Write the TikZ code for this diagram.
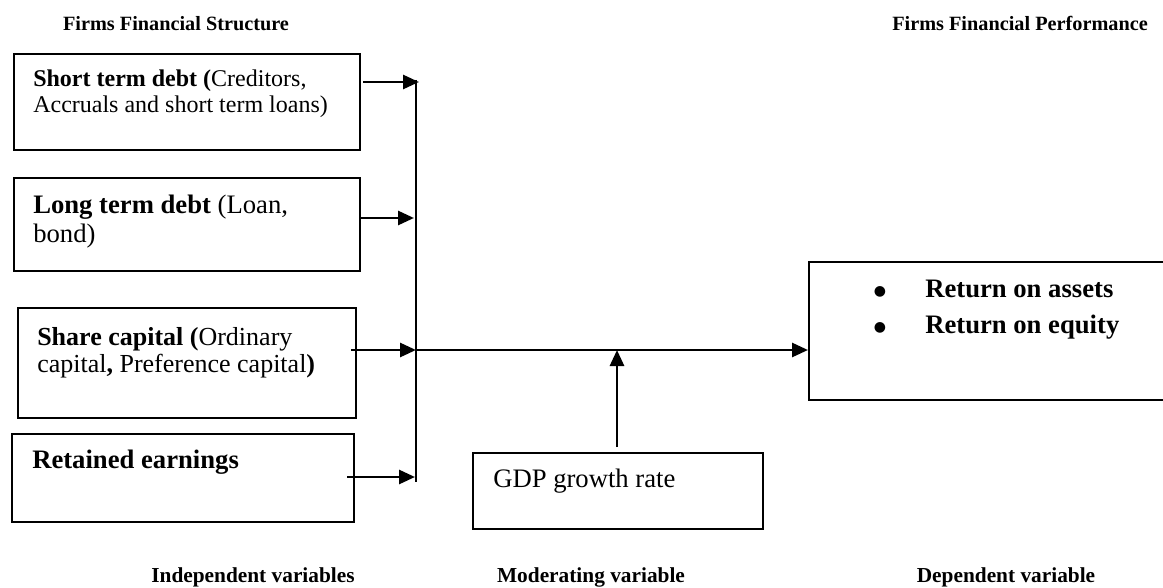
\documentclass[tikz,border=0pt]{standalone}
\usepackage{fontspec}
\setmainfont{Liberation Serif}
\newfontfamily\dejavu{DejaVu Sans}
\usetikzlibrary{arrows.meta}
\begin{document}
\begin{tikzpicture}[x=0.75pt,y=-0.75pt,
  box/.style={draw,line width=1.5pt,rectangle,inner sep=0pt,anchor=north west},
  txt/.style={inner sep=0pt,anchor=base west},
  ttl/.style={inner sep=0pt,anchor=base,font=\fontsize{15.2}{18}\selectfont\bfseries},
  lbl/.style={inner sep=0pt,anchor=base,font=\fontsize{16}{19}\selectfont\bfseries},
  bul/.style={inner sep=0pt,anchor=base,font=\dejavu\fontsize{10.5}{12}\selectfont},
  arr/.style={line width=2.1pt,-{Triangle[length=12pt,width=10.5pt]}},
  bus/.style={line width=1.1pt}]
\useasboundingbox (0,0) rectangle (1163,588);
\clip (0,0) rectangle (1163,588);
% titles
\node[ttl] (tl) at (176,31) {Firms Financial Structure};
\node[ttl] (tr) at (1020,31) {Firms Financial Performance};
% boxes
\node[box,minimum width=259.5pt,minimum height=72pt] (b1) at (13,53) {};
\node[box,minimum width=259.5pt,minimum height=69.75pt] (b2) at (13,177) {};
\node[box,minimum width=253.5pt,minimum height=82.5pt] (b3) at (17,307) {};
\node[box,minimum width=256.5pt,minimum height=66pt] (b4) at (11,433) {};
\node[box,minimum width=217.5pt,minimum height=57pt] (gdp) at (472,452) {};
\node[box,minimum width=275pt,minimum height=103.5pt] (dep) at (808,261) {};
% box texts
\node[txt,font=\fontsize{18}{21}\selectfont] (t1a) at (33,87) {\textbf{Short term debt (}Creditors,};
\node[txt,font=\fontsize{18}{21}\selectfont] (t1b) at (33,113) {Accruals and short term loans)};
\node[txt,font=\fontsize{20}{24}\selectfont] (t2a) at (33,213) {\textbf{Long term debt} (Loan,};
\node[txt,font=\fontsize{20}{24}\selectfont] (t2b) at (33,242) {bond)};
\node[txt,font=\fontsize{19.5}{23}\selectfont] (t3a) at (37,345) {\textbf{Share capital (}Ordinary};
\node[txt,font=\fontsize{19.5}{23}\selectfont] (t3b) at (37,372) {capital\textbf{,} Preference capital\textbf{)}};
\node[txt,font=\fontsize{20}{24}\selectfont\bfseries] (t4) at (32,468) {Retained earnings};
\node[txt,font=\fontsize{20}{24}\selectfont] (tg) at (493,487) {GDP growth rate};
\node[bul] (bu1) at (880,295) {●};
\node[bul] (bu2) at (880,331) {●};
\node[txt,font=\fontsize{20}{24}\selectfont\bfseries] (td1) at (925,297) {Return on assets};
\node[txt,font=\fontsize{20}{24}\selectfont\bfseries] (td2) at (925,333) {Return on equity};
% bottom labels
\node[lbl] (l1) at (253,582) {Independent variables};
\node[lbl] (l2) at (591,582) {Moderating variable};
\node[lbl] (l3) at (1006,582) {Dependent variable};
% bus line
\coordinate (vt) at (416,80);
\coordinate (vb) at (416,482);
\draw[bus] (vt) -- (vb);
% arrows into bus
\coordinate (s1) at (363,82);  \coordinate (e1) at (419,82);
\coordinate (s2) at (360,218); \coordinate (e2) at (414,218);
\coordinate (s3) at (351,350); \coordinate (e3) at (416,350);
\coordinate (s4) at (347,477); \coordinate (e4) at (415,477);
\draw[arr] (s1) -- (e1);
\draw[arr] (s2) -- (e2);
\draw[arr] (s3) -- (e3);
\draw[arr] (s4) -- (e4);
% main arrow
\draw[arr] (e3) -- (e3 -| dep.west);
% moderating arrow
\coordinate (gm) at (617,447);
\coordinate (gt) at (617,350);
\draw[arr] (gm) -- (gt);
\end{tikzpicture}
\end{document}
